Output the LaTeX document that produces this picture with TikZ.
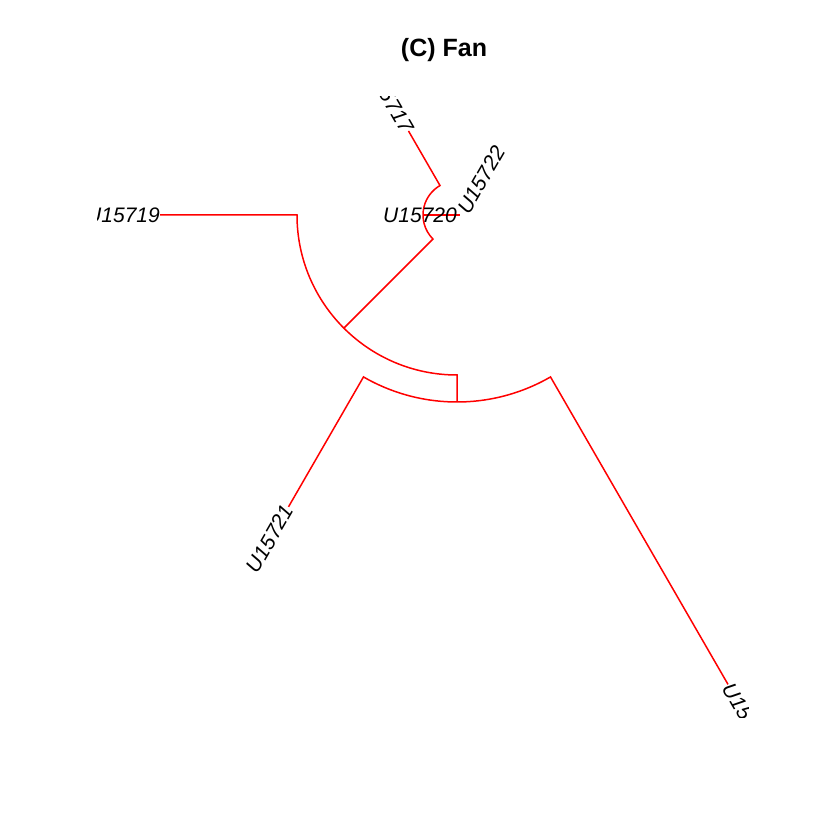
\documentclass[tikz,border=0pt]{standalone}
\usepackage{fontspec}
\setmainfont{Liberation Sans}
\begin{document}
\begin{tikzpicture}[x=1pt,y=1pt,
  edge/.style={red, line width=1.5pt},
  lab/.style={font=\fontsize{21}{21}\selectfont\itshape, inner sep=0pt, text=black},
  ttl/.style={font=\fontsize{25}{25}\selectfont\bfseries, inner sep=0pt}]
\useasboundingbox (0,0) rectangle (840,840);
\node[ttl] (title) at (444,790) {(C) Fan};
\coordinate (O) at (457,625);
\begin{scope}
\clip (97,122) rectangle (748,743);
% coordinates
\path (O) ++(180:160) coordinate (a1);
\path (O) ++(225:160) coordinate (a2);
\path (O) ++(270:160) coordinate (a3);
\path (O) ++(180:297) coordinate (t19);
\path (O) ++(225:34) coordinate (c0);
\path (O) ++(120:34) coordinate (c1);
\path (O) ++(180:34) coordinate (c2);
\path (O) ++(0:3) coordinate (t20);
\path (O) ++(120:97) coordinate (t17);
\path (O) ++(270:187) coordinate (b0);
\path (O) ++(240:187) coordinate (b1);
\path (O) ++(300:187) coordinate (b2);
\path (O) ++(240:337) coordinate (t21);
\path (O) ++(300:542) coordinate (t18);
\coordinate (t22) at (463,628);
% edges
\draw[edge] (t19) -- (a1) arc[start angle=180, end angle=270, radius=160] -- (b0);
\draw[edge] (a2) -- (c0) arc[start angle=225, end angle=120, radius=34] -- (t17);
\draw[edge] (c2) -- (t20);
\draw[edge] (t21) -- (b1) arc[start angle=240, end angle=300, radius=187] -- (t18);
% labels
\node[lab, anchor=east] (l19) at (t19) {U15719};
\node[lab, anchor=east] (l20) at (O) {U15720};
\node[lab, anchor=west, rotate=60] (l22) at (t22) {U15722};
\node[lab, anchor=east, rotate=-60] (l17) at (t17) {U15717};
\node[lab, anchor=east, rotate=60] (l21) at (t21) {U15721};
\node[lab, anchor=west, rotate=-60] (l18) at (t18) {U15718};
\end{scope}
\end{tikzpicture}
\end{document}
